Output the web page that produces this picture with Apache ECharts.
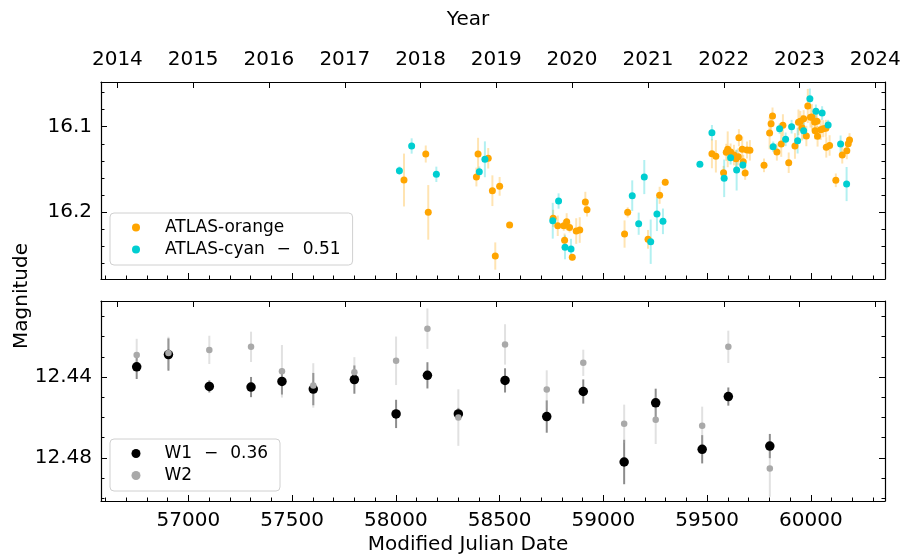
<!DOCTYPE html>
<html>
<head>
<meta charset="utf-8">
<title>ATLAS / WISE light curves</title>
<script src="https://cdn.jsdelivr.net/npm/echarts@6/dist/echarts.min.js"></script>
<style>
  html, body { margin: 0; padding: 0; background: #fff; }
  #chart { width: 905px; height: 559px; }
</style>
</head>
<body>
<div id="chart"></div>
<script>
// [MJD, magnitude, error]
var atlasOrange = [
  [58039, 16.1625, 0.031], [58144, 16.132, 0.010], [58156, 16.2004, 0.032], [58388, 16.159, 0.011],
  [58396, 16.132, 0.019], [58445, 16.137, 0.012], [58465, 16.175, 0.018], [58479, 16.2516, 0.016],
  [58500, 16.1699, 0.011], [58548, 16.2152, 0.003], [58758, 16.2074, 0.010], [58780, 16.2161, 0.012],
  [58809, 16.2161, 0.006], [58813, 16.2332, 0.008], [58823, 16.2114, 0.010], [58837, 16.218, 0.006],
  [58850, 16.2531, 0.004], [58869, 16.2223, 0.015], [58886, 16.2211, 0.015], [58913, 16.1883, 0.012],
  [58921, 16.1973, 0.008], [59102, 16.2258, 0.016], [59117, 16.2004, 0.006], [59215, 16.232, 0.011],
  [59271, 16.1804, 0.010], [59298, 16.1652, 0.004], [59523, 16.1317, 0.017], [59542, 16.1347, 0.019],
  [59579, 16.1539, 0.008], [59592, 16.1300, 0.010], [59599, 16.1265, 0.021], [59613, 16.1297, 0.010],
  [59629, 16.1332, 0.012], [59639, 16.1375, 0.010], [59650, 16.1352, 0.010], [59653, 16.1129, 0.010],
  [59669, 16.1265, 0.015], [59674, 16.141, 0.008], [59683, 16.1543, 0.008], [59692, 16.1273, 0.010],
  [59706, 16.1277, 0.012], [59774, 16.1453, 0.008], [59801, 16.1074, 0.019], [59808, 16.0965, 0.012],
  [59815, 16.0875, 0.010], [59836, 16.1297, 0.010], [59857, 16.1203, 0.015], [59865, 16.0984, 0.013],
  [59893, 16.1422, 0.012], [59923, 16.1226, 0.015], [59940, 16.0948, 0.015], [59949, 16.0935, 0.012],
  [59957, 16.1012, 0.015], [59965, 16.0906, 0.010], [59978, 16.1109, 0.012], [59985, 16.0757, 0.020],
  [59998, 16.089, 0.012], [60005, 16.0885, 0.015], [60018, 16.0945, 0.012], [60020, 16.1047, 0.010],
  [60029, 16.0935, 0.012], [60032, 16.1113, 0.012], [60047, 16.1035, 0.012], [60059, 16.1023, 0.010],
  [60072, 16.1019, 0.010], [60074, 16.1242, 0.012], [60090, 16.122, 0.012], [60120, 16.1628, 0.008],
  [60151, 16.1332, 0.010], [60173, 16.1281, 0.010], [60180, 16.12, 0.008], [60186, 16.1156, 0.008]
];
// cyan already shifted by -0.51
var atlasCyan = [
  [58017, 16.1516, 0.005], [58076, 16.1226, 0.009], [58195, 16.1558, 0.009], [58402, 16.1527, 0.006],
  [58429, 16.1382, 0.021], [58756, 16.2102, 0.021], [58784, 16.1871, 0.009], [58815, 16.2414, 0.014],
  [58844, 16.2434, 0.012], [59139, 16.1809, 0.018], [59170, 16.2137, 0.013], [59197, 16.159, 0.020],
  [59228, 16.2348, 0.026], [59258, 16.2023, 0.020], [59287, 16.2109, 0.015], [59465, 16.1441, 0.003],
  [59523, 16.107, 0.009], [59582, 16.1605, 0.022], [59613, 16.1363, 0.008], [59642, 16.1508, 0.024],
  [59672, 16.1449, 0.005], [59818, 16.1234, 0.006], [59849, 16.1023, 0.006], [59878, 16.1148, 0.008],
  [59907, 16.1000, 0.008], [59936, 16.1164, 0.015], [59965, 16.1047, 0.010], [59995, 16.0672, 0.012],
  [60024, 16.082, 0.008], [60054, 16.084, 0.008], [60083, 16.098, 0.006], [60143, 16.1203, 0.010],
  [60172, 16.1672, 0.020]
];
// W1 already shifted by -0.36
var wiseW1 = [
  [56751, 12.4350, 0.006], [56904, 12.4289, 0.008], [57101, 12.4447, 0.003], [57302, 12.4450, 0.005],
  [57451, 12.4422, 0.0065], [57602, 12.4460, 0.008], [57800, 12.4413, 0.007], [58001, 12.4583, 0.007],
  [58152, 12.4392, 0.0065], [58301, 12.4583, 0.003], [58526, 12.4417, 0.006], [58727, 12.4596, 0.008],
  [58903, 12.4472, 0.006], [59100, 12.4821, 0.011], [59252, 12.4528, 0.007], [59476, 12.4758, 0.007],
  [59602, 12.4497, 0.0045], [59802, 12.4742, 0.006]
];
var wiseW2 = [
  [56751, 12.4291, 0.008], [56904, 12.4281, 0.008], [57101, 12.4266, 0.007], [57302, 12.4251, 0.0075],
  [57451, 12.4372, 0.013], [57602, 12.4442, 0.011], [57800, 12.4377, 0.0075], [58001, 12.4320, 0.012],
  [58152, 12.4161, 0.010], [58301, 12.4601, 0.014], [58526, 12.4239, 0.010], [58727, 12.4462, 0.0095],
  [58903, 12.4330, 0.0065], [59100, 12.4632, 0.0095], [59252, 12.4612, 0.012], [59476, 12.4642, 0.0095],
  [59602, 12.4251, 0.008], [59802, 12.4853, 0.014]
];

var mjdMajor = [57000, 57500, 58000, 58500, 59000, 59500, 60000];
var mjdMinor = [];
for (var m = 56600; m <= 60300; m += 100) mjdMinor.push(m);
// 1 January of each year, in MJD
var yearTicks = [56658, 57023, 57388, 57754, 58119, 58484, 58849, 59215, 59580, 59945, 60310];
var yearLabels = ['2014', '2015', '2016', '2017', '2018', '2019', '2020', '2021', '2022', '2023', '2024'];
var topMajor = [16.1, 16.2];
var topMinor = [16.06, 16.08, 16.10, 16.12, 16.14, 16.16, 16.18, 16.20, 16.22, 16.24, 16.26];
var botMajor = [12.44, 12.48];
var botMinor = [12.41, 12.42, 12.43, 12.44, 12.45, 12.46, 12.47, 12.48, 12.49, 12.50];

var mjdMin = 56579, mjdMax = 60357;
var FONT = 'DejaVu Sans';
var FS = 20;

function tickAxis(kind, grid, pos, min, max, ticks, len, label) {
  var ax = {
    type: 'value', gridIndex: grid, position: pos, min: min, max: max,
    splitLine: { show: false },
    axisLine: { show: len > 4, onZero: false, lineStyle: { color: '#000', width: 1.2 } },
    axisTick: { show: true, inside: true, length: len, customValues: ticks, lineStyle: { color: '#000', width: 1 } },
    axisLabel: { show: false }
  };
  if (kind === 'y') ax.inverse = true;
  if (label) {
    ax.axisLabel = {
      show: true, customValues: label.values, margin: label.margin,
      fontFamily: FONT, fontSize: FS, color: '#000',
      formatter: label.formatter
    };
    if (label.name) {
      ax.name = label.name;
      ax.nameLocation = 'middle';
      ax.nameGap = label.nameGap;
      // titles sit a little left of the axis centre
      ax.nameTextStyle = { fontFamily: FONT, fontSize: FS, color: '#000', padding: [0, 50, 0, 0] };
    }
  }
  return ax;
}

function yearFmt(v) {
  var i = yearTicks.indexOf(v);
  return i >= 0 ? yearLabels[i] : '';
}

var xAxes = [
  // top panel: 0 bottom major, 1 bottom minor, 2 top years
  tickAxis('x', 0, 'bottom', mjdMin, mjdMax, mjdMajor, 6),
  tickAxis('x', 0, 'bottom', mjdMin, mjdMax, mjdMinor, 3.5),
  tickAxis('x', 0, 'top', mjdMin, mjdMax, yearTicks, 6,
    { values: yearTicks, margin: 12, formatter: yearFmt, name: 'Year', nameGap: 52 }),
  // bottom panel: 3 bottom major (labels), 4 bottom minor, 5 top years
  tickAxis('x', 1, 'bottom', mjdMin, mjdMax, mjdMajor, 6,
    { values: mjdMajor, margin: 10, formatter: function (v) { return String(v); }, name: 'Modified Julian Date', nameGap: 34 }),
  tickAxis('x', 1, 'bottom', mjdMin, mjdMax, mjdMinor, 3.5),
  tickAxis('x', 1, 'top', mjdMin, mjdMax, yearTicks, 6)
];

var tMin = 16.0476, tMax = 16.2785, bMin = 12.4024, bMax = 12.5014;
var yAxes = [
  tickAxis('y', 0, 'left', tMin, tMax, topMajor, 6,
    { values: topMajor, margin: 9, formatter: function (v) { return v.toFixed(1); } }),
  tickAxis('y', 0, 'left', tMin, tMax, topMinor, 3.5),
  tickAxis('y', 0, 'right', tMin, tMax, topMajor, 6),
  tickAxis('y', 0, 'right', tMin, tMax, topMinor, 3.5),
  tickAxis('y', 1, 'left', bMin, bMax, botMajor, 6,
    { values: botMajor, margin: 9, formatter: function (v) { return v.toFixed(2); } }),
  tickAxis('y', 1, 'left', bMin, bMax, botMinor, 3.5),
  tickAxis('y', 1, 'right', bMin, bMax, botMajor, 6),
  tickAxis('y', 1, 'right', bMin, bMax, botMinor, 3.5)
];

function errorBars(name, data, color, width, xi, yi) {
  return {
    name: name, type: 'custom', xAxisIndex: xi, yAxisIndex: yi, data: data,
    silent: true, clip: true,
    renderItem: function (params, api) {
      var x = api.value(0), y = api.value(1), e = api.value(2);
      var p1 = api.coord([x, y - e]), p2 = api.coord([x, y + e]);
      return {
        type: 'line',
        shape: { x1: p1[0], y1: p1[1], x2: p2[0], y2: p2[1] },
        style: { stroke: color, lineWidth: width }
      };
    }
  };
}

function dots(name, data, color, size, xi, yi) {
  return {
    name: name, type: 'scatter', xAxisIndex: xi, yAxisIndex: yi,
    data: data.map(function (d) { return [d[0], d[1]]; }),
    symbol: 'circle', symbolSize: size,
    itemStyle: { color: color, opacity: 1 },
    emphasis: { disabled: true }
  };
}

var SP = '\u2002\u2009';
var nameOrange = 'ATLAS-orange';
var nameCyan = 'ATLAS-cyan' + SP + '\u2212' + SP + '0.51';
var nameW1 = 'W1' + SP + '\u2212' + SP + '0.36';
var nameW2 = 'W2';

function legendBox(top, names, size) {
  return {
    orient: 'vertical', left: 110, top: top, data: names,
    icon: 'circle', itemWidth: size, itemHeight: size, itemGap: 5,
    backgroundColor: 'rgba(255,255,255,0.85)', borderColor: '#d0d0d0', borderWidth: 1, borderRadius: 4,
    padding: [6, 12, 7, 26 - size / 2],
    textStyle: { fontFamily: FONT, fontSize: 17, color: '#000', padding: [0, 0, 0, 28 - size] }
  };
}

var chart = echarts.init(document.getElementById('chart'), null, { renderer: 'canvas' });
chart.setOption({
  animation: false,
  backgroundColor: '#fff',
  grid: [
    { left: 101, top: 82, width: 784, height: 197 },
    { left: 101, top: 301, width: 784, height: 200 }
  ],
  xAxis: xAxes,
  yAxis: yAxes,
  legend: [
    legendBox(213, [nameOrange, nameCyan], 8),
    legendBox(439, [nameW1, nameW2], 9)
  ],
  graphic: [{
    type: 'text', x: 22, y: 296, rotation: Math.PI / 2,
    style: { text: 'Magnitude', fontFamily: FONT, fontSize: FS, fill: '#000', align: 'center', verticalAlign: 'middle' }
  }],
  series: [
    errorBars('oerr', atlasOrange, 'rgba(255,165,0,0.3)', 2, 0, 0),
    dots(nameOrange, atlasOrange, '#FFA500', 7, 0, 0),
    errorBars('cerr', atlasCyan, 'rgba(0,206,209,0.3)', 2, 0, 0),
    dots(nameCyan, atlasCyan, '#00CED1', 7, 0, 0),
    errorBars('w1err', wiseW1, 'rgba(0,0,0,0.45)', 2, 3, 4),
    dots(nameW1, wiseW1, '#000000', 9.5, 3, 4),
    errorBars('w2err', wiseW2, 'rgba(169,169,169,0.35)', 2, 3, 4),
    dots(nameW2, wiseW2, '#A9A9A9', 6.5, 3, 4)
  ]
});
</script>
</body>
</html>
